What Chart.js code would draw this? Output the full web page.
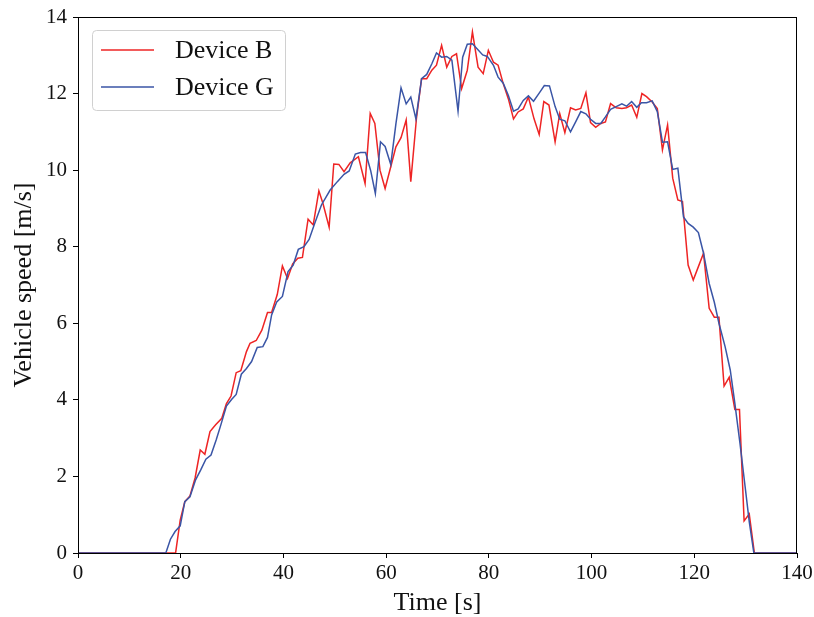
<!DOCTYPE html>
<html>
<head>
<meta charset="utf-8">
<script src="https://cdn.jsdelivr.net/npm/chart.js@4"></script>
<style>
html,body{margin:0;padding:0;background:#fff;}
#wrap{width:814px;height:617px;}
</style>
</head>
<body>
<div id="wrap"><canvas id="c" width="814" height="617"></canvas></div>
<script>
// ---- data ----
const seriesNames = ["Device B", "Device G"];
const timeB = [0,19.0,19.9,20.8,21.8,22.8,23.8,24.7,25.7,26.8,28.0,28.9,29.8,30.8,31.7,32.8,33.5,34.7,35.8,36.9,37.7,38.8,39.8,40.8,41.8,42.8,43.7,44.8,45.8,46.9,47.7,48.9,49.8,50.8,51.8,53.0,54.6,55.9,56.9,57.8,58.8,59.8,60.9,61.9,62.9,63.9,64.8,65.9,66.9,67.9,68.9,69.8,70.8,71.8,72.8,73.7,74.7,75.8,76.8,77.9,78.9,79.9,80.9,81.8,82.8,83.8,84.8,85.7,86.7,87.7,88.8,89.8,90.7,91.7,92.9,93.8,94.8,95.9,96.9,97.9,98.9,99.8,100.8,101.8,102.7,103.7,104.8,105.9,106.8,107.8,108.8,109.8,110.7,111.8,112.8,113.8,114.8,115.8,116.8,117.7,118.8,119.8,120.8,121.8,122.9,123.9,124.8,125.8,126.8,127.9,128.8,129.7,130.7,131.7,140];
const speedB = [0,0,0.86,1.34,1.49,1.96,2.69,2.58,3.17,3.35,3.52,3.9,4.1,4.71,4.76,5.26,5.48,5.55,5.82,6.28,6.28,6.75,7.5,7.17,7.55,7.7,7.72,8.72,8.57,9.46,9.13,8.51,10.16,10.15,9.96,10.19,10.35,9.65,11.48,11.22,10.0,9.52,10.09,10.61,10.85,11.31,9.7,11.35,12.39,12.39,12.61,12.74,13.26,12.69,12.97,13.04,12.13,12.61,13.61,12.69,12.52,13.13,12.82,12.74,12.26,11.86,11.34,11.52,11.6,11.91,11.34,10.93,11.79,11.7,10.74,11.48,10.98,11.63,11.57,11.61,12.02,11.24,11.12,11.22,11.26,11.74,11.63,11.61,11.63,11.7,11.38,12.0,11.92,11.78,11.61,10.53,11.18,9.79,9.22,9.18,7.52,7.13,7.48,7.83,6.39,6.16,6.16,4.36,4.59,3.75,3.75,0.84,1.02,0,0];
const timeG = [0,17.1,18.0,18.9,19.9,20.8,21.8,22.9,23.9,24.9,25.9,26.9,27.8,28.9,29.9,30.8,31.8,32.8,33.8,34.9,36.0,36.9,37.7,38.7,39.8,40.9,41.9,42.9,44.0,45.0,46.1,47.4,49.1,50.5,51.8,52.8,54.0,55.0,56.0,57.0,57.9,58.9,59.8,60.9,61.9,62.9,63.9,64.8,65.8,66.9,67.9,68.9,69.8,70.8,71.8,72.8,74.0,74.9,75.8,76.8,77.7,78.8,79.7,80.9,81.8,82.8,83.8,84.8,85.7,86.7,87.7,88.7,89.8,90.8,91.8,92.9,93.8,94.8,95.9,96.9,97.9,98.9,99.8,100.8,101.8,102.7,103.7,104.8,105.9,106.8,107.8,108.8,109.7,110.7,111.8,112.8,113.8,114.8,115.8,116.8,117.9,118.8,119.8,120.8,121.8,122.9,123.9,124.8,126.0,127.0,127.9,128.9,129.9,130.7,131.6,140];
const speedG = [0,0,0.36,0.56,0.71,1.34,1.47,1.91,2.17,2.45,2.56,2.95,3.34,3.84,4.01,4.14,4.67,4.82,5.0,5.37,5.39,5.63,6.22,6.56,6.7,7.35,7.52,7.93,8.0,8.19,8.61,9.09,9.48,9.7,9.89,9.98,10.42,10.46,10.46,9.98,9.39,10.74,10.62,10.15,11.21,12.15,11.73,11.91,11.34,12.39,12.5,12.78,13.06,12.95,12.97,12.87,11.54,12.95,13.29,13.3,13.17,13.01,12.97,12.74,12.43,12.27,11.95,11.54,11.6,11.82,11.94,11.8,12.01,12.21,12.2,11.66,11.33,11.29,11.0,11.26,11.53,11.47,11.33,11.22,11.22,11.39,11.59,11.66,11.73,11.67,11.79,11.64,11.76,11.76,11.81,11.53,10.73,10.74,10.02,10.05,8.78,8.61,8.51,8.37,7.83,7.04,6.55,6.0,5.39,4.78,3.91,2.86,1.73,0.82,0,0];
const xAxisTitle = "Time [s]";
const yAxisTitle = "Vehicle speed [m/s]";
const xRange = [0, 140];
const yRange = [0, 14];

// ---- styles ----
const colorB = "#ee2424";
const colorG = "#3a55a6";
const FONT = "'Liberation Serif', 'DejaVu Serif', serif";

function pts(xs, ys) { return xs.map((x, i) => ({ x: x, y: ys[i] })); }

const framePlugin = {
  id: 'frame',
  afterDatasetsDraw(chart) {
    const { ctx, chartArea: a } = chart;
    ctx.save();
    ctx.strokeStyle = '#000';
    ctx.lineWidth = 1;
    ctx.strokeRect(Math.round(a.left) + 0.5, Math.round(a.top) + 0.5,
                   Math.round(a.right - a.left) - 1, Math.round(a.bottom - a.top));
    // legend box
    const lx = a.left + 14, ly = a.top + 13, lw = 193, lh = 80;
    ctx.beginPath();
    if (ctx.roundRect) ctx.roundRect(lx + 0.5, ly + 0.5, lw, lh, 4); else ctx.rect(lx + 0.5, ly + 0.5, lw, lh);
    ctx.fillStyle = 'rgba(255,255,255,0.85)';
    ctx.fill();
    ctx.strokeStyle = '#d0d0d0';
    ctx.stroke();
    chart.data.datasets.forEach((ds, i) => {
      const yy = ly + 20 + i * 37;
      ctx.beginPath();
      ctx.strokeStyle = ds.borderColor;
      ctx.lineWidth = 1.5;
      ctx.moveTo(lx + 9, yy);
      ctx.lineTo(lx + 62, yy);
      ctx.stroke();
      ctx.fillStyle = '#111';
      ctx.font = "26px " + FONT;
      ctx.textBaseline = 'middle';
      ctx.textAlign = 'left';
      ctx.fillText(ds.label, lx + 83, yy + 1);
    });
    ctx.restore();
  }
};

new Chart(document.getElementById('c'), {
  type: 'line',
  data: {
    datasets: [
      { label: seriesNames[0], data: pts(timeB, speedB), borderColor: colorB, backgroundColor: colorB,
        borderWidth: 1.5, pointRadius: 0, tension: 0, order: 1 },
      { label: seriesNames[1], data: pts(timeG, speedG), borderColor: colorG, backgroundColor: colorG,
        borderWidth: 1.5, pointRadius: 0, tension: 0, order: 0 }
    ]
  },
  options: {
    responsive: false,
    animation: false,
    devicePixelRatio: 1,
    layout: { padding: { top: 17, right: 17, left: 0, bottom: 0 } },
    plugins: { legend: { display: false }, tooltip: { enabled: false } },
    scales: {
      x: {
        type: 'linear', min: xRange[0], max: xRange[1],
        afterFit(s) { s.height = 64; s.paddingLeft = 0; s.paddingRight = 0; },
        grid: { drawOnChartArea: false, drawTicks: true, tickLength: 5, color: '#000', tickWidth: 1 },
        border: { display: true, color: '#000', width: 1 },
        ticks: { stepSize: 20, color: '#111', padding: 3, maxRotation: 0, font: { family: FONT, size: 21 } },
        title: { display: true, text: xAxisTitle, color: '#111', font: { family: FONT, size: 26, lineHeight: 1 }, padding: { top: 0, bottom: 1 } }
      },
      y: {
        type: 'linear', min: yRange[0], max: yRange[1],
        afterFit(s) { s.width = 78; s.paddingTop = 0; s.paddingBottom = 0; },
        grid: { drawOnChartArea: false, drawTicks: true, tickLength: 5, color: '#000', tickWidth: 1 },
        border: { display: true, color: '#000', width: 1 },
        ticks: { stepSize: 2, color: '#111', padding: 6, font: { family: FONT, size: 21 } },
        title: { display: true, text: yAxisTitle, color: '#111', font: { family: FONT, size: 26, lineHeight: 1 }, padding: { top: 11, bottom: 0 } }
      }
    }
  },
  plugins: [framePlugin]
});
</script>
</body>
</html>
